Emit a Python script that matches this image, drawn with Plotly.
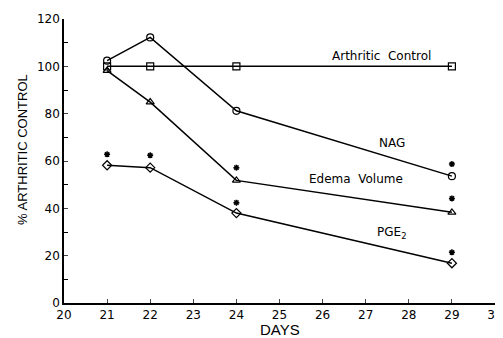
import plotly.graph_objects as go

days = [21, 22, 24, 29]
control = [100, 100, 100, 100]
nag = [102.4, 112.2, 81.2, 53.6]
edema = [98.2, 84.9, 51.8, 38.3]
pge2 = [58.2, 57.2, 38, 16.8]

star_days = [21, 22, 24, 24, 29, 29, 29]
star_vals = [62.8, 62.4, 57.2, 42.4, 58.7, 44.2, 21.4]

label_text = ["Arthritic  Control", "NAG", "Edema  Volume", "PGE<sub>2</sub>"]
label_x = [27.36, 27.6, 26.77, 27.59]
label_y = [104.5, 67.8, 52.3, 29.5]

fig = go.Figure()
series = [(control, "square-open"), (nag, "circle-open"), (edema, "triangle-up-open"), (pge2, "diamond-open")]
for vals, sym in series:
    fig.add_trace(go.Scatter(
        x=days, y=vals, mode="lines+markers",
        line=dict(color="black", width=1.5),
        marker=dict(symbol=sym, size=7, color="black", line=dict(color="black", width=1.2)),
        showlegend=False, cliponaxis=False))

fig.add_trace(go.Scatter(
    x=star_days, y=star_vals, mode="markers",
    marker=dict(symbol="asterisk", size=5, color="black", line=dict(color="black", width=1.5)),
    showlegend=False, cliponaxis=False))

for t, x, y in zip(label_text, label_x, label_y):
    fig.add_annotation(x=x, y=y, text=t, showarrow=False,
                       font=dict(family="DejaVu Sans", size=12, color="black"))

fig.add_annotation(xref="paper", yref="paper", x=0.5, y=-0.092, yanchor="middle",
                   text="DAYS", showarrow=False,
                   font=dict(family="Liberation Sans, Arial", size=15, color="black"))
fig.add_annotation(xref="paper", yref="paper", x=-0.095, y=0.539, xanchor="center", yanchor="middle",
                   textangle=-90, text="% ARTHRITIC CONTROL", showarrow=False,
                   font=dict(family="Liberation Sans, Arial", size=13, color="black"))

fig.update_layout(
    width=495, height=330,
    margin=dict(l=56, r=8, t=11, b=35, autoexpand=False),
    paper_bgcolor="white", plot_bgcolor="white",
    font=dict(family="DejaVu Sans", size=12, color="black"),
    xaxis=dict(range=[20, 30], dtick=1, tick0=20, ticks="inside", ticklen=4, automargin=False,
               showline=True, linecolor="black", linewidth=1.5, showgrid=False, zeroline=False,
               tickfont=dict(size=12)),
    yaxis=dict(range=[0, 120], dtick=20, ticks="inside", ticklen=4, automargin=False,
               showline=True, linecolor="black", linewidth=1.5, showgrid=False, zeroline=False,
               minor=dict(dtick=10, ticks="inside", ticklen=4, tickcolor="black"),
               tickfont=dict(size=12)),
)

fig.write_html("out.html")
